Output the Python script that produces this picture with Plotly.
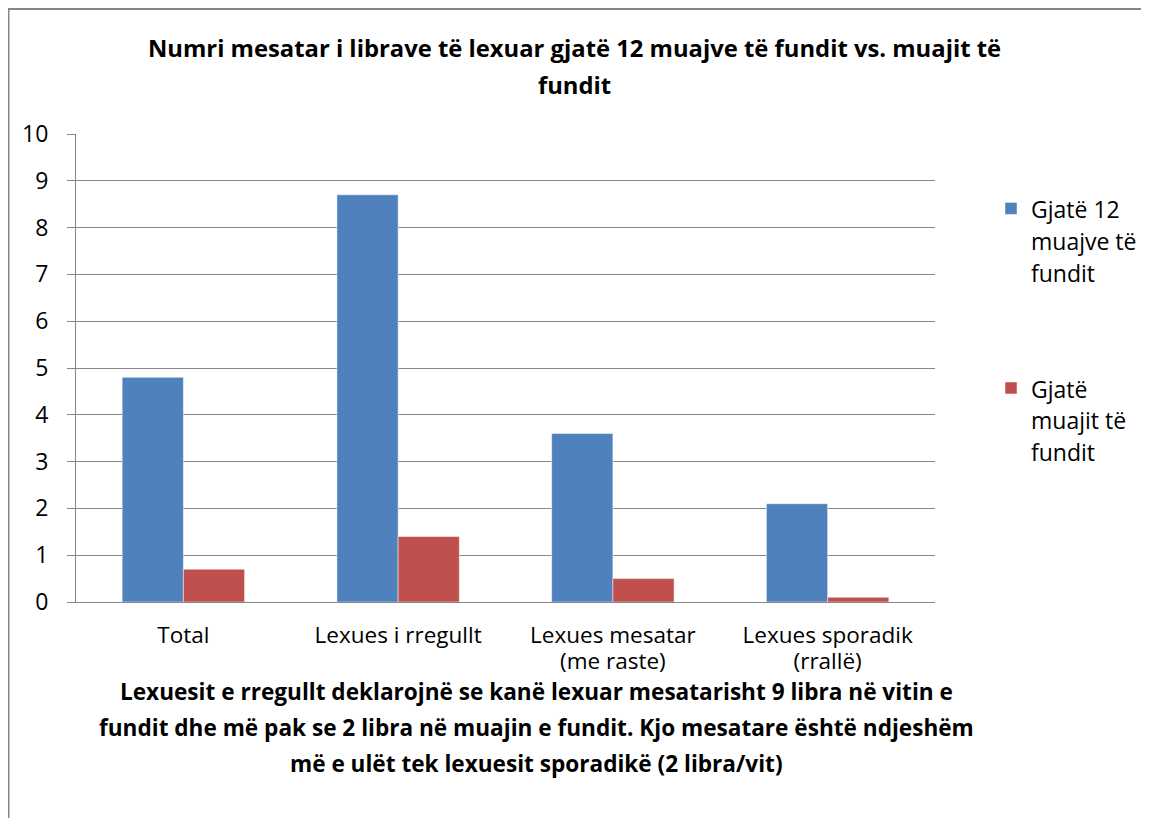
import plotly.graph_objects as go

categories = ["Total", "Lexues i rregullt", "Lexues mesatar<br>(me raste)", "Lexues sporadik<br>(rrallë)"]
series_names = ["Gjatë 12<br>muajve të<br>fundit", "Gjatë<br>muajit të<br>fundit"]
values_12m = [4.8, 8.7, 3.6, 2.1]
values_1m = [0.7, 1.4, 0.5, 0.1]
colors = ["#4F81BD", "#C0504D"]
title_lines = ["Numri mesatar i librave të lexuar gjatë 12 muajve të fundit vs. muajit të", "fundit"]
xtitle_lines = [
    "Lexuesit e rregullt deklarojnë se kanë lexuar mesatarisht 9 libra në vitin e",
    "fundit dhe më pak se 2 libra në muajin e fundit. Kjo mesatare është ndjeshëm",
    "më e ulët tek lexuesit sporadikë (2 libra/vit)",
]
y_ticks = list(range(0, 11))

OFF = 8  # page body margin
W, H = 1149 - OFF, 818 - OFF
# plot area in page pixel coordinates
L, R, T, B = 76, 935, 134, 602
FONT = "Open Sans"

def px_x(p):
    return (p - L) / (R - L)

def px_y(p):
    return (B - p) / (B - T)

def span(txt, size):
    return "<br>".join(f'<span style="font-size:{size}px">{s}</span>' for s in txt.split("<br>"))

fig = go.Figure()
for name, vals, col, grp in zip(series_names, [values_12m, values_1m], colors, ["a", "b"]):
    fig.add_trace(go.Bar(
        x=categories, y=vals, name=span(name, 23), legendgroup=grp,
        marker=dict(color=col, line=dict(color="rgba(255,255,255,0.6)", width=0.8)),
    ))

fig.update_layout(
    width=W, height=H,
    margin=dict(l=L - OFF, r=W - (R - OFF), t=T - OFF, b=H - (B - OFF), pad=0, autoexpand=False),
    paper_bgcolor="white", plot_bgcolor="white",
    barmode="group", bargap=0.43, bargroupgap=0,
    font=dict(family=FONT, color="black", size=22),
    showlegend=True,
    legend=dict(
        x=px_x(991), y=px_y(186), xanchor="left", yanchor="top",
        font=dict(size=24.5, family=FONT), valign="top",
        tracegroupgap=81, bgcolor="rgba(0,0,0,0)",
    ),
)
fig.update_yaxes(
    range=[0, 10], tickvals=y_ticks, showgrid=True, gridcolor="#878787", gridwidth=1,
    showline=True, linecolor="#878787", linewidth=1, ticks="outside", ticklen=8,
    tickcolor="#878787", tickfont=dict(size=23), ticklabelstandoff=14, zeroline=False,
)
fig.update_xaxes(
    showline=True, linecolor="#878787", linewidth=1, ticks="", tickfont=dict(size=20),
    ticktext=[span(c, 22.5) for c in categories], tickvals=categories, ticklabelstandoff=16,
)

# frame
fig.add_shape(type="line", xref="paper", yref="paper", x0=px_x(7), x1=px_x(1170), y0=px_y(9), y1=px_y(9),
              line=dict(color="#868686", width=2))
fig.add_shape(type="line", xref="paper", yref="paper", x0=px_x(8.5), x1=px_x(8.5), y0=px_y(9), y1=px_y(840),
              line=dict(color="#868686", width=2))

for i, line in enumerate(title_lines):
    fig.add_annotation(text=f"<b>{line}</b>", xref="paper", yref="paper", x=px_x(574), y=px_y(48 + 37 * i),
                       showarrow=False, xanchor="center", yanchor="middle", font=dict(size=23.8, family=FONT))
for i, line in enumerate(xtitle_lines):
    fig.add_annotation(text=f"<b>{line}</b>", xref="paper", yref="paper", x=px_x(536), y=px_y(691 + 36 * i),
                       showarrow=False, xanchor="center", yanchor="middle", font=dict(size=22.6, family=FONT))

fig.write_html("out.html")
